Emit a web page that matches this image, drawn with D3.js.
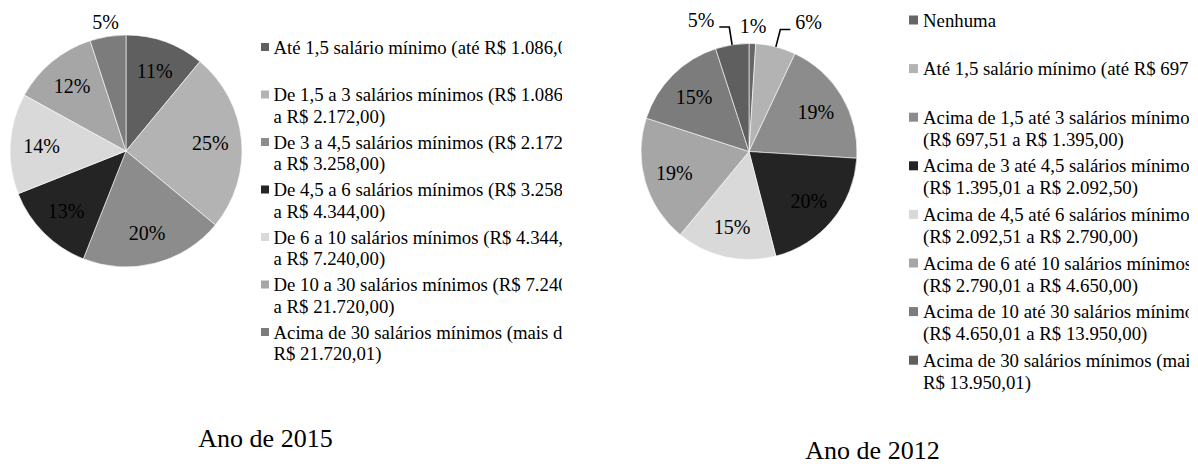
<!DOCTYPE html>
<html>
<head>
<meta charset="utf-8">
<script src="https://cdn.jsdelivr.net/npm/d3@7"></script>
<style>
  html, body { margin: 0; padding: 0; background: #fff; }
  svg { display: block; }
  text { font-family: "Liberation Serif", "Times New Roman", serif; fill: #000; }
</style>
</head>
<body>
<svg id="chart" width="1198" height="464"></svg>
<script>
// ---------- DATA ----------
const categories2015 = [
  "Até 1,5 salário mínimo (até R$ 1.086,00)",
  "De 1,5 a 3 salários mínimos (R$ 1.086,01\na R$ 2.172,00)",
  "De 3 a 4,5 salários mínimos (R$ 2.172,01\na R$ 3.258,00)",
  "De 4,5 a 6 salários mínimos (R$ 3.258,01\na R$ 4.344,00)",
  "De 6 a 10 salários mínimos (R$ 4.344,01\na R$ 7.240,00)",
  "De 10 a 30 salários mínimos (R$ 7.240,01\na R$ 21.720,00)",
  "Acima de 30 salários mínimos (mais de\nR$ 21.720,01)"
];
const values2015 = [11, 25, 20, 13, 14, 12, 5];
const colors2015 = ["#5f5f5f", "#b3b3b3", "#8c8c8c", "#242424", "#d9d9d9", "#a6a6a6", "#7c7c7c"];
const title2015 = "Ano de 2015";

const categories2012 = [
  "Nenhuma",
  "Até 1,5 salário mínimo (até R$ 697,50)",
  "Acima de 1,5 até 3 salários mínimos\n(R$ 697,51 a R$ 1.395,00)",
  "Acima de 3 até 4,5 salários mínimos\n(R$ 1.395,01 a R$ 2.092,50)",
  "Acima de 4,5 até 6 salários mínimos\n(R$ 2.092,51 a R$ 2.790,00)",
  "Acima de 6 até 10 salários mínimos\n(R$ 2.790,01 a R$ 4.650,00)",
  "Acima de 10 até 30 salários mínimos\n(R$ 4.650,01 a R$ 13.950,00)",
  "Acima de 30 salários mínimos (mais de\nR$ 13.950,01)"
];
const values2012 = [1, 6, 19, 20, 15, 19, 15, 5];
const colors2012 = ["#666666", "#b3b3b3", "#8c8c8c", "#242424", "#d9d9d9", "#a6a6a6", "#7c7c7c", "#5f5f5f"];
const title2012 = "Ano de 2012";

// ---------- DRAWING ----------
const svg = d3.select("#chart");
svg.append("rect").attr("width", 1198).attr("height", 464).attr("fill", "#fff");

function drawPie(cfg) {
  const { id, cx, cy, R, values, colors, categories, title, labelFont, labelR,
          outsideR, legend, titlePos } = cfg;
  const g = svg.append("g").attr("transform", `translate(${cx},${cy})`);
  const pie = d3.pie().sort(null).value(d => d);
  const arcs = pie(values);
  const arc = d3.arc().innerRadius(0).outerRadius(R);
  const labelArc = d3.arc().innerRadius(labelR * R).outerRadius(labelR * R);

  g.selectAll("path.slice").data(arcs).enter().append("path")
    .attr("class", "slice")
    .attr("d", arc)
    .attr("fill", (d, i) => colors[i])
    .attr("stroke", "#ffffff")
    .attr("stroke-width", 0.6);

  const inside = arcs.filter(a => a.data >= 8);
  const outside = arcs.filter(a => a.data < 8);

  g.selectAll("text.inlab").data(inside).enter().append("text")
    .attr("class", "inlab")
    .attr("x", d => labelArc.centroid(d)[0])
    .attr("y", d => labelArc.centroid(d)[1])
    .attr("dy", "0.35em")
    .attr("text-anchor", "middle")
    .style("font-size", labelFont + "px")
    .text(d => d.data + "%");

  // outside labels: the one closest to 12 o'clock stays in place,
  // the others (if crowded) get elbow leader lines
  const mid = d => (d.startAngle + d.endAngle) / 2;
  const pt = (a, r) => [Math.sin(a) * r, -Math.cos(a) * r];
  let anchor = null;
  outside.forEach(d => {
    const m = mid(d);
    const dist = Math.min(m, 2 * Math.PI - m);
    if (!anchor || dist < anchor.dist) anchor = { d, dist };
  });
  const crowded = outside.length > 1;
  outside.forEach(d => {
    const m = mid(d);
    if (!crowded || d === anchor.d) {
      const p = pt(m, outsideR);
      g.append("text")
        .attr("x", p[0]).attr("y", p[1])
        .attr("dy", "0.35em").attr("text-anchor", "middle")
        .style("font-size", labelFont + "px")
        .text(d.data + "%");
    } else {
      const p0 = pt(m, R);
      const p1 = pt(m, R + 18);
      const side = p1[0] < pt(mid(anchor.d), R + 18)[0] ? -1 : 1;
      const p2 = [p1[0] + side * 10, p1[1]];
      g.append("path")
        .attr("d", d3.line()([p0, p1, p2]))
        .attr("fill", "none")
        .attr("stroke", "#000")
        .attr("stroke-width", 1.6);
      g.append("text")
        .attr("x", p2[0] + side * 5).attr("y", p1[1] - 7)
        .attr("dy", "0.35em")
        .attr("text-anchor", side < 0 ? "end" : "start")
        .style("font-size", labelFont + "px")
        .text(d.data + "%");
    }
  });

  // legend
  const clipId = "clip-" + id;
  svg.append("clipPath").attr("id", clipId)
    .append("rect").attr("x", legend.x - 20).attr("y", 0)
    .attr("width", legend.clipRight - (legend.x - 20)).attr("height", 464);
  const lg = svg.append("g").attr("clip-path", `url(#${clipId})`);
  categories.forEach((c, i) => {
    const y = legend.y + i * legend.pitch;
    lg.append("rect")
      .attr("x", legend.x).attr("y", y - legend.box / 2)
      .attr("width", legend.box).attr("height", legend.box)
      .attr("fill", colors[i]);
    const lines = c.split("\n");
    const t = lg.append("text")
      .attr("x", legend.x + legend.box + legend.gap)
      .attr("y", y)
      .style("font-size", legend.font + "px");
    lines.forEach((ln, j) => {
      t.append("tspan")
        .attr("x", legend.x + legend.box + legend.gap)
        .attr("y", y + j * legend.lineH)
        .attr("dy", "0.35em")
        .text(ln);
    });
  });

  svg.append("text")
    .attr("x", titlePos[0]).attr("y", titlePos[1])
    .attr("text-anchor", "middle")
    .style("font-size", "26px")
    .text(title);
}

drawPie({
  id: "a", cx: 126, cy: 151, R: 116,
  values: values2015, colors: colors2015, categories: categories2015, title: title2015,
  labelFont: 20, labelR: 0.73, outsideR: 131,
  legend: { x: 261, y: 47, pitch: 47.5, lineH: 21.5, box: 8, gap: 4.5, font: 18.8, clipRight: 562 },
  titlePos: [265.5, 447]
});

drawPie({
  id: "b", cx: 749, cy: 151.5, R: 108,
  values: values2012, colors: colors2012, categories: categories2012, title: title2012,
  labelFont: 20, labelR: 0.72, outsideR: 126,
  legend: { x: 909, y: 20, pitch: 48.6, lineH: 22, box: 9, gap: 5, font: 18.8, clipRight: 1189 },
  titlePos: [872.5, 459]
});
</script>
</body>
</html>
